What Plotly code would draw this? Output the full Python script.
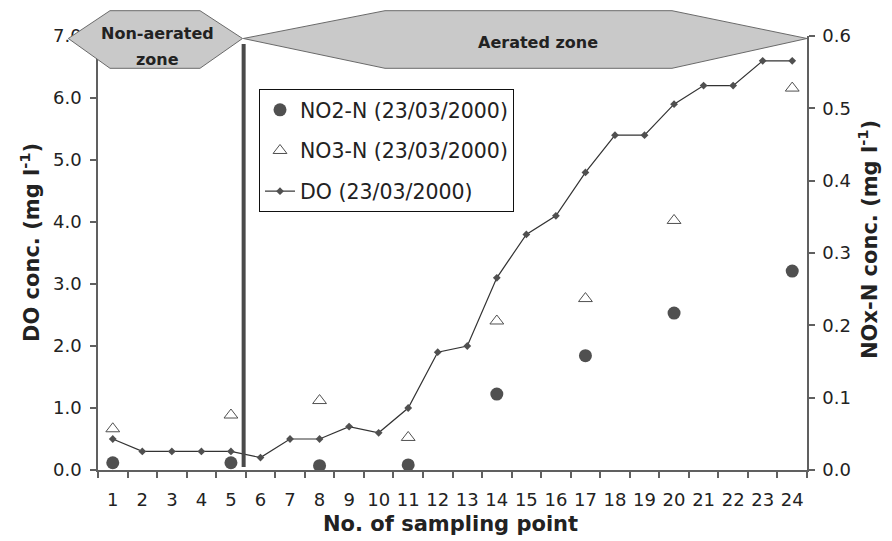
import plotly.graph_objects as go

# ---------------- data ----------------
sampling_points = [str(i) for i in range(1, 25)]
do_conc = [0.5, 0.3, 0.3, 0.3, 0.3, 0.2, 0.5, 0.5, 0.7, 0.6, 1.0, 1.9,
           2.0, 3.1, 3.8, 4.1, 4.8, 5.4, 5.4, 5.9, 6.2, 6.2, 6.6, 6.6]
nox_points = ["1", "5", "8", "11", "14", "17", "20", "24"]
no2_conc = [0.010, 0.010, 0.006, 0.007, 0.105, 0.158, 0.217, 0.275]
no3_conc = [0.057, 0.076, 0.096, 0.045, 0.206, 0.237, 0.345, 0.528]

left_ticks = [0, 1, 2, 3, 4, 5, 6, 7]
right_ticks = [0, 0.1, 0.2, 0.3, 0.4, 0.5, 0.6]

# ---------------- layout constants ----------------
W, H = 892, 541
ML, MR, MT, MB = 98, 85, 36, 71
PW, PH = W - ML - MR, H - MT - MB

FONT = "DejaVu Sans, Liberation Sans, Arial, sans-serif"
AX = "#606060"
PT = "#505050"
TXT = "#222222"


def px(xp):
    return (xp - ML) / PW


def py(yp):
    return (H - MB - yp) / PH


def poly(pts):
    return "M " + " L ".join(f"{px(a):.5f},{py(b):.5f}" for a, b in pts) + " Z"


fig = go.Figure()

fig.add_trace(go.Scatter(
    x=nox_points, y=no2_conc, yaxis="y2", mode="markers",
    name="NO2-N (23/03/2000)", legendgroup="a",
    marker=dict(symbol="circle", size=13, color=PT, line=dict(width=0)),
))
fig.add_trace(go.Scatter(
    x=nox_points, y=no3_conc, yaxis="y2", mode="markers",
    name="NO3-N (23/03/2000)", legendgroup="b",
    marker=dict(symbol="triangle-up-open", size=12, color=PT, line=dict(width=1, color=PT)),
))
fig.add_trace(go.Scatter(
    x=sampling_points, y=do_conc, yaxis="y", mode="lines+markers",
    name="DO (23/03/2000)", legendgroup="c",
    line=dict(color="#333333", width=1.2),
    marker=dict(symbol="diamond", size=6, color=PT),
))

shapes = [
    # zone boundary line between points 5 and 6
    dict(type="line", xref="x", yref="paper", x0=4.43, x1=4.43,
         y0=py(467), y1=py(44), line=dict(color="#4a4a4a", width=4), layer="above"),
    # non-aerated zone hexagon
    dict(type="path", xref="paper", yref="paper",
         path=poly([(68.3, 38.5), (110, 10.7), (200, 10.7), (242.5, 38.5), (200, 68.3), (110, 68.3)]),
         fillcolor="#c9c9c9", line=dict(color="#6a6a6a", width=1), layer="above"),
    # aerated zone arrow
    dict(type="path", xref="paper", yref="paper",
         path=poly([(243.3, 38.5), (385, 10.7), (672, 10.7), (807, 38.5), (672, 68.3), (385, 68.3)]),
         fillcolor="#c9c9c9", line=dict(color="#6a6a6a", width=1), layer="above"),
]

ZFONT = dict(family=FONT, size=16, color=TXT)
TITLEFONT = dict(family=FONT, size=21, color=TXT)

annotations = [
    dict(text="<b>Non-aerated</b>", xref="paper", yref="paper",
         x=px(157), y=py(33.5), xanchor="center", yanchor="middle",
         showarrow=False, font=ZFONT),
    dict(text="<b>zone</b>", xref="paper", yref="paper",
         x=px(157), y=py(59.5), xanchor="center", yanchor="middle",
         showarrow=False, font=ZFONT),
    dict(text="<b>Aerated zone</b>", xref="paper", yref="paper",
         x=px(538), y=py(43), xanchor="center", yanchor="middle", showarrow=False,
         font=ZFONT),
    # axis titles
    dict(text="<b>DO conc. (mg l<sup>-1</sup>)</b>", xref="paper", yref="paper",
         x=px(30), y=py(243), xanchor="center", yanchor="middle", textangle=-90,
         showarrow=False, font=TITLEFONT),
    dict(text="<b>NOx-N conc. (mg l<sup>-1</sup>)</b>", xref="paper", yref="paper",
         x=px(868), y=py(240), xanchor="center", yanchor="middle", textangle=-90,
         showarrow=False, font=TITLEFONT),
    dict(text="<b>No. of sampling point</b>", xref="paper", yref="paper",
         x=px(450), y=py(524), xanchor="center", yanchor="middle",
         showarrow=False, font=TITLEFONT),
]

TICKFONT = dict(family=FONT, size=18, color=TXT)

fig.update_layout(
    width=W, height=H,
    margin=dict(l=ML, r=MR, t=MT, b=MB, pad=0, autoexpand=False),
    paper_bgcolor="white", plot_bgcolor="white",
    font=dict(family=FONT, size=18, color=TXT),
    showlegend=True,
    legend=dict(
        x=px(259), y=py(89), xanchor="left", yanchor="top",
        bgcolor="white", bordercolor="#111111", borderwidth=1,
        traceorder="grouped", tracegroupgap=11,
        font=dict(family=FONT, size=20.5, color=TXT),
    ),
    xaxis=dict(
        type="category", categoryorder="array", categoryarray=sampling_points,
        range=[-0.5, 23.5], tickson="boundaries", tickangle=0,
        tickfont=TICKFONT, automargin=False,
        showline=True, linecolor=AX, linewidth=1.5,
        ticks="outside", ticklen=6, tickcolor=AX, tickwidth=1.5,
        ticklabelstandoff=13,
        showgrid=False, zeroline=False,
    ),
    yaxis=dict(
        range=[0, 7], tickvals=left_ticks, tickformat=".1f", tickfont=TICKFONT,
        automargin=False,
        showline=True, linecolor=AX, linewidth=1.5,
        ticks="outside", ticklen=6, tickcolor=AX, tickwidth=1.5,
        ticklabelstandoff=5,
        showgrid=False, zeroline=False,
    ),
    yaxis2=dict(
        overlaying="y", side="right", range=[0, 0.6], tickvals=right_ticks,
        tickformat=".1f", tickfont=TICKFONT, automargin=False,
        showline=True, linecolor=AX, linewidth=1.5,
        ticks="outside", ticklen=6, tickcolor=AX, tickwidth=1.5,
        ticklabelstandoff=4,
        showgrid=False, zeroline=False,
    ),
    shapes=shapes,
    annotations=annotations,
)

fig.write_html("out.html")
